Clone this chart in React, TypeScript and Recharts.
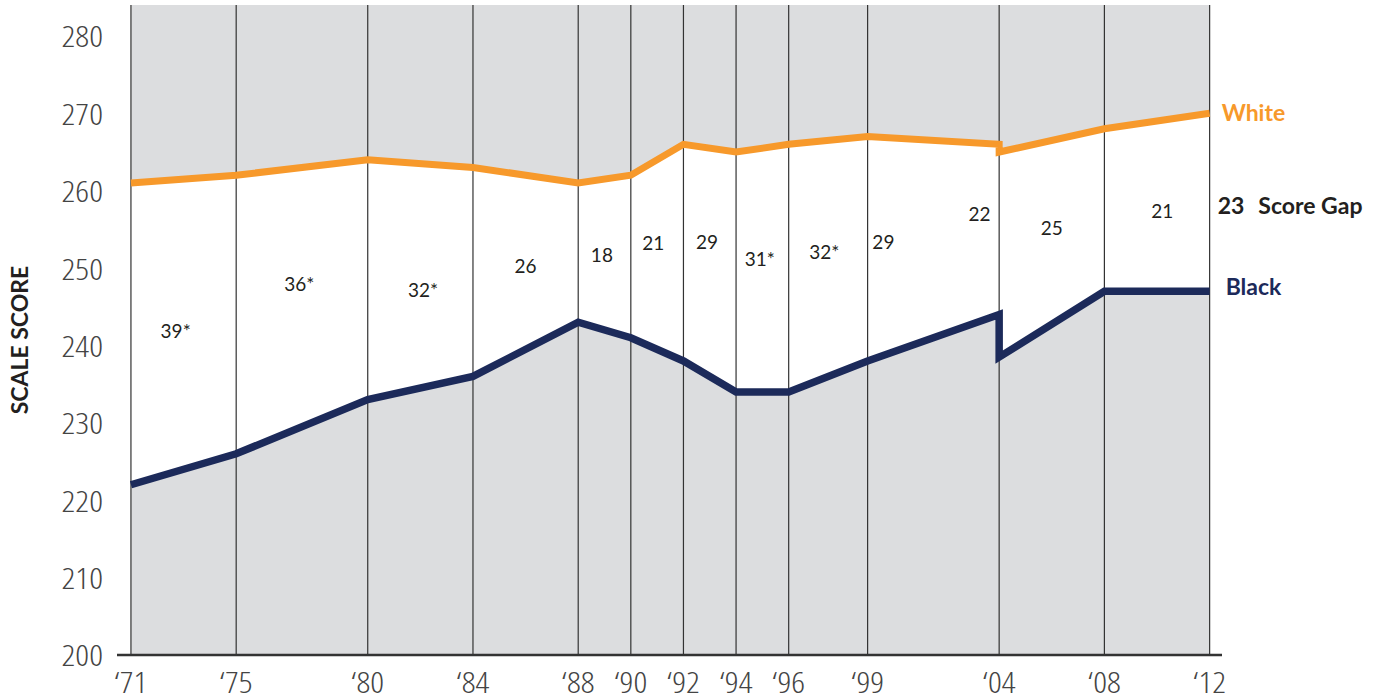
import React from 'react';
import {
  ComposedChart,
  Area,
  Line,
  XAxis,
  YAxis,
  ReferenceArea,
  ReferenceLine,
  ReferenceDot,
} from 'recharts';

// ---- data ----
const years = [1971, 1975, 1980, 1984, 1988, 1990, 1992, 1994, 1996, 1999, 2004, 2004, 2008, 2012];
const whiteScores = [261, 262, 264, 263, 261, 262, 266, 265, 266, 267, 266, 265, 268, 270];
const blackScores = [222, 226, 233, 236, 243, 241, 238, 234, 234, 238, 244, 238.5, 247, 247];

const tickYears = [1971, 1975, 1980, 1984, 1988, 1990, 1992, 1994, 1996, 1999, 2004, 2008, 2012];
const tickLabels = ['‘71', '‘75', '‘80', '‘84', '‘88', '‘90', '‘92', '‘94', '‘96', '‘99', '‘04', '‘08', '‘12'];
const yTicks = [200, 210, 220, 230, 240, 250, 260, 270, 280];

const gapLabels = ['39*', '36*', '32*', '26', '18', '21', '29', '31*', '32*', '29', '22', '25', '21'];
const gapLabelX = [1972.7, 1977.4, 1982.1, 1986.0, 1988.9, 1990.85, 1992.9, 1994.9, 1997.35, 1999.6, 2003.25, 2006.0, 2010.2];
const gapLabelY = [241.8, 247.9, 247.2, 250.3, 251.7, 253.2, 253.4, 251.1, 252.0, 253.4, 256.9, 255.1, 257.3];

const lastGap = '23';

const data = years.map((yr, i) => ({
  year: yr,
  white: whiteScores[i],
  black: blackScores[i],
  band: [blackScores[i], whiteScores[i]],
}));

const ORANGE = '#F7992B';
const NAVY = '#1C2A5A';
const GRAY = '#DCDDDF';
const DARK = '#231F20';
const TICK_FONT = "'Open Sans', sans-serif";
const LABEL_FONT = "Lato, 'Open Sans', sans-serif";

const tickLabelFor = (v: number) => {
  const i = tickYears.indexOf(v);
  return i >= 0 ? tickLabels[i] : '';
};

const XTick = (props: any) => {
  const { x, y, payload } = props;
  return (
    <text
      x={0}
      y={0}
      transform={`translate(${x}, ${y + 18}) scale(1.17, 1)`}
      textAnchor="middle"
      fontFamily={TICK_FONT}
      fontWeight={300}
      fontSize={29}
      fill="#444"
      style={{ fontStretch: '75%' }}
    >
      {tickLabelFor(payload.value)}
    </text>
  );
};

const YTick = (props: any) => {
  const { x, y, payload } = props;
  return (
    <text
      x={0}
      y={0}
      transform={`translate(${x}, ${y}) scale(1.17, 1)`}
      textAnchor="end"
      dominantBaseline="central"
      fontFamily={TICK_FONT}
      fontWeight={300}
      fontSize={29}
      fill="#444"
      style={{ fontStretch: '75%' }}
    >
      {payload.value}
    </text>
  );
};

const YLabel = (props: any) => {
  const vb = props.viewBox || {};
  const x = (vb.x || 0) + 19;
  const y = (vb.y || 0) + vb.height / 2 + 10;
  return (
    <text
      x={x}
      y={y}
      transform={`rotate(-90, ${x}, ${y})`}
      textAnchor="middle"
      dominantBaseline="central"
      fontFamily={LABEL_FONT}
      fontWeight={700}
      fontSize={23}
      fill={DARK}
    >
      SCALE SCORE
    </text>
  );
};

const GapTitle = (props: any) => {
  const vb = props.viewBox || {};
  const x = (vb.x || 0) + 8;
  const y = vb.y || 0;
  return (
    <text x={x} y={y} dominantBaseline="central" fontFamily={LABEL_FONT} fontWeight={700} fontSize={23} fill={DARK}>
      <tspan>{lastGap}</tspan>
      <tspan dx={14}>Score Gap</tspan>
    </text>
  );
};

export default function App() {
  return (
    <div style={{ position: 'absolute', left: 0, top: 0, background: '#fff' }}>
      <ComposedChart
        width={1383}
        height={700}
        data={data}
        margin={{ top: 5, right: 161, bottom: 0, left: 0 }}
      >
        <XAxis
          dataKey="year"
          type="number"
          domain={[1970.47, 2012.47]}
          ticks={tickYears}
          tickLine={false}
          axisLine={{ stroke: '#333', strokeWidth: 2.5 }}
          tickMargin={14}
          height={45}
          tick={<XTick />}
          interval={0}
          allowDuplicatedCategory
        />
        <YAxis
          type="number"
          domain={[200, 284]}
          ticks={yTicks}
          tickLine={false}
          axisLine={false}
          tickMargin={8}
          width={117}
          tick={<YTick />}
          label={{ content: YLabel }}
        />
        <ReferenceArea x1={1971} x2={2012} y1={200} y2={284} fill={GRAY} fillOpacity={1} stroke="none" ifOverflow="hidden" />
        <Area
          dataKey="band"
          type="linear"
          stroke="none"
          fill="#ffffff"
          fillOpacity={1}
          isAnimationActive={false}
          activeDot={false}
          dot={false}
        />
        {tickYears.map((yr) => (
          <ReferenceLine key={yr} x={yr} stroke="#333" strokeWidth={1.2} />
        ))}
        <Line
          dataKey="white"
          type="linear"
          stroke={ORANGE}
          strokeWidth={7}
          dot={false}
          activeDot={false}
          strokeLinejoin="miter"
          isAnimationActive={false}
        />
        <Line
          dataKey="black"
          type="linear"
          stroke={NAVY}
          strokeWidth={7.5}
          dot={false}
          activeDot={false}
          strokeLinejoin="miter"
          isAnimationActive={false}
        />
        {gapLabels.map((g, i) => (
          <ReferenceDot
            key={'g' + i}
            x={gapLabelX[i]}
            y={gapLabelY[i]}
            r={0}
            fill="none"
            stroke="none"
            ifOverflow="visible"
            label={{ value: g, position: 'center', fontFamily: LABEL_FONT, fontSize: 19, fill: DARK }}
          />
        ))}
        <ReferenceDot
          x={2012}
          y={whiteScores[whiteScores.length - 1]}
          r={0}
          fill="none"
          stroke="none"
          ifOverflow="visible"
          label={{ value: 'White', position: 'right', offset: 12, fontFamily: LABEL_FONT, fontWeight: 700, fontSize: 23, fill: ORANGE }}
        />
        <ReferenceDot
          x={2012}
          y={258.2}
          r={0}
          fill="none"
          stroke="none"
          ifOverflow="visible"
          label={{ content: GapTitle }}
        />
        <ReferenceDot
          x={2012}
          y={247.6}
          r={0}
          fill="none"
          stroke="none"
          ifOverflow="visible"
          label={{ value: 'Black', position: 'right', offset: 16, fontFamily: LABEL_FONT, fontWeight: 700, fontSize: 23, fill: NAVY }}
        />
      </ComposedChart>
    </div>
  );
}
